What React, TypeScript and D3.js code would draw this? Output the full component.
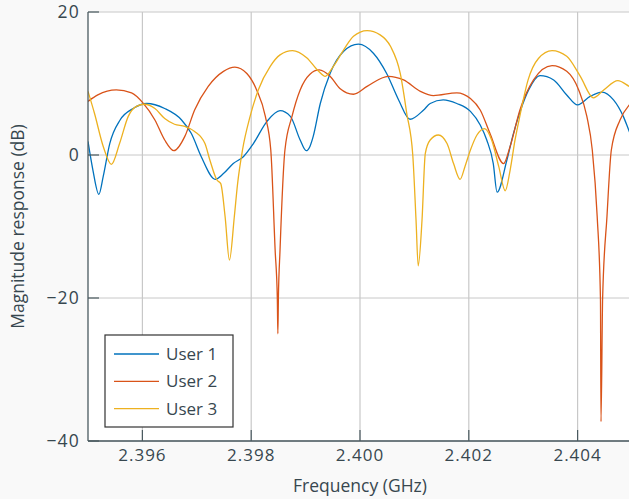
import React, { useEffect } from "react";
import * as d3 from "d3";

const xTicks = [2.396, 2.398, 2.4, 2.402, 2.404];
const yTicks = [20, 0, -20, -40];
const seriesNames = ["User 1", "User 2", "User 3"];
const seriesColors = ["#0072BD", "#D95319", "#EDB120"];

const user1: [number, number][] = [
  [2.395, 1.9], [2.39509, -2.1], [2.3952, -5.5], [2.39528, -3.0], [2.3954, 1.6],
  [2.39559, 4.9], [2.39583, 6.5], [2.39608, 7.2], [2.39641, 6.5], [2.39672, 4.9],
  [2.3969, 3.0], [2.39708, -0.2], [2.39734, -3.4], [2.39749, -2.6], [2.39767, -1.2],
  [2.39786, -0.2], [2.39804, 1.6], [2.39829, 4.7], [2.39853, 6.2], [2.39872, 5.4],
  [2.3989, 2.1], [2.39901, 0.6], [2.39908, 1.2], [2.39914, 2.6], [2.39927, 7.2],
  [2.39945, 11.4], [2.3997, 14.5], [2.39997, 15.5], [2.40025, 14.2], [2.40049, 11.4],
  [2.40071, 7.7], [2.40092, 5.0], [2.40117, 6.3], [2.40129, 7.2], [2.40153, 7.7],
  [2.40178, 7.2], [2.40203, 6.1], [2.40221, 4.2], [2.40233, 2.1], [2.40245, -1.2],
  [2.40252, -5.2], [2.4027, -0.7], [2.40282, 3.0], [2.40294, 6.0], [2.4031, 9.1],
  [2.40331, 11.1], [2.40356, 10.5], [2.4038, 8.4], [2.404, 7.0], [2.40423, 8.2],
  [2.40445, 8.8], [2.40466, 7.7], [2.40484, 5.4], [2.40495, 3.3], [2.405, 2.4],
];

const user2: [number, number][] = [
  [2.395, 7.5], [2.39518, 8.4], [2.39552, 9.1], [2.3958, 8.7], [2.39601, 7.3],
  [2.39623, 4.9], [2.39641, 2.1], [2.39658, 0.6], [2.39678, 2.6], [2.39696, 6.3],
  [2.39721, 9.6], [2.39749, 11.7], [2.3977, 12.3], [2.39792, 11.4], [2.3981, 9.1],
  [2.39826, 5.4], [2.39836, 0.7], [2.39844, -13.3], [2.39848, -20], [2.39849, -25],
  [2.3985, -20], [2.39853, -13.3], [2.39862, 0.7], [2.39875, 5.4], [2.3989, 9.1],
  [2.39908, 11.3], [2.39925, 11.9], [2.39945, 11.0], [2.39963, 9.3], [2.39988, 8.5],
  [2.40013, 9.6], [2.40052, 11.0], [2.4008, 10.5], [2.40111, 8.9], [2.40135, 8.3],
  [2.40178, 8.7], [2.40203, 7.9], [2.40221, 6.3], [2.40239, 3.0], [2.40264, -1.2],
  [2.40276, 1.2], [2.40294, 6.3], [2.40319, 10.5], [2.40353, 12.5], [2.4038, 11.7],
  [2.40402, 9.1], [2.40417, 5.4], [2.40427, 0.7], [2.40436, -8.6], [2.40442, -20],
  [2.40443, -37.3], [2.40446, -20], [2.40454, -8.6], [2.40462, 0.7], [2.40478, 4.9],
  [2.40495, 7.0], [2.405, 7.4],
];

const user3: [number, number][] = [
  [2.395, 8.9], [2.39512, 5.8], [2.39528, 1.2], [2.39543, -1.3], [2.39558, 1.6],
  [2.39574, 5.4], [2.39589, 6.8], [2.39604, 7.1], [2.39623, 6.5], [2.39641, 5.1],
  [2.39659, 4.3], [2.39678, 4.0], [2.39696, 3.3], [2.39715, 1.6], [2.39724, -0.7],
  [2.39737, -3.5], [2.39744, -4.0], [2.39752, -8.6], [2.3976, -14.7], [2.39769, -8.6],
  [2.39775, -4.0], [2.39784, 0.7], [2.39798, 5.4], [2.39813, 9.1], [2.39835, 12.4],
  [2.39853, 14.0], [2.39876, 14.6], [2.39902, 13.6], [2.39924, 11.7], [2.39936, 11.0],
  [2.39951, 12.4], [2.3997, 14.7], [2.39988, 16.6], [2.40013, 17.4], [2.40037, 16.8],
  [2.40056, 15.2], [2.40074, 11.4], [2.40086, 5.8], [2.40097, 0.0], [2.40103, -9.1],
  [2.40107, -15.5], [2.40114, -9.1], [2.4012, 0.2], [2.40129, 2.1], [2.40144, 2.8],
  [2.4016, 1.6], [2.40172, -1.2], [2.40184, -3.4], [2.40193, -1.6], [2.40203, 0.7],
  [2.40215, 2.8], [2.40229, 3.7], [2.40242, 2.1], [2.40255, -1.6], [2.40267, -5.0],
  [2.40276, -2.1], [2.40285, 2.1], [2.40294, 5.5], [2.40309, 10.5], [2.40328, 13.5],
  [2.40353, 14.6], [2.4038, 13.8], [2.40405, 11.0], [2.40429, 8.0], [2.40448, 9.1],
  [2.40474, 10.4], [2.40495, 9.6], [2.405, 9.4],
];

const seriesData = [user1, user2, user3];

const W = 629;
const H = 499;
const M = { left: 88, top: 12, right: 632, bottom: 441 };
const FONT = "'Open Sans', 'DejaVu Sans', sans-serif";
const TEXT = "#37474f";
const AXIS = "#4a5a60";
const GRID = "#c8c8c8";

export default function App() {
  useEffect(() => {
    document.body.style.margin = "0";
  }, []);

  const x = d3.scaleLinear().domain([2.395, 2.405]).range([M.left, M.right]);
  const y = d3.scaleLinear().domain([-40, 20]).range([M.bottom, M.top]);
  const line = d3
    .line<[number, number]>()
    .x((d) => x(d[0]))
    .y((d) => y(d[1]))
    .curve(d3.curveMonotoneX);

  const fmtY = (v: number) => (v < 0 ? "\u2212" + Math.abs(v) : String(v));

  const legendX = 105;
  const legendY = 335;

  return (
    <svg width={W} height={H} style={{ display: "block", background: "#f9f9f9" }}>
      <defs>
        <clipPath id="plotclip">
          <rect x={M.left} y={M.top} width={M.right - M.left} height={M.bottom - M.top} />
        </clipPath>
      </defs>
      <rect x={M.left} y={M.top} width={M.right - M.left} height={M.bottom - M.top} fill="#ffffff" />
      {/* grid */}
      {xTicks.map((t) => (
        <line key={"gx" + t} x1={x(t)} x2={x(t)} y1={M.top} y2={M.bottom} stroke={GRID} strokeWidth={1.2} />
      ))}
      {yTicks.map((t) => (
        <line key={"gy" + t} x1={M.left} x2={M.right} y1={y(t)} y2={y(t)} stroke={GRID} strokeWidth={1} />
      ))}
      {/* series */}
      <g clipPath="url(#plotclip)">
        {seriesData.map((s, i) => (
          <path key={i} d={line(s) || ""} fill="none" stroke={seriesColors[i]} strokeWidth={1.3} strokeLinejoin="round" />
        ))}
      </g>
      {/* axes */}
      <line x1={M.left} x2={M.left} y1={M.top} y2={M.bottom} stroke={AXIS} strokeWidth={1.3} />
      <line x1={M.left} x2={M.right} y1={M.bottom} y2={M.bottom} stroke={AXIS} strokeWidth={1.3} />
      {yTicks.map((t) => (
        <g key={"ty" + t}>
          <line x1={M.left} x2={M.left + 11} y1={y(t)} y2={y(t)} stroke={AXIS} strokeWidth={1.2} />
          <text x={80} y={y(t)} dy="0.36em" textAnchor="end" fontFamily={FONT} fontSize={17.5} fill={TEXT} letterSpacing={1.2}>
            {fmtY(t)}
          </text>
        </g>
      ))}
      {xTicks.map((t) => (
        <g key={"tx" + t}>
          <line x1={x(t)} x2={x(t)} y1={M.bottom} y2={M.bottom - 11} stroke={AXIS} strokeWidth={1.2} />
          <text x={x(t)} y={461} textAnchor="middle" fontFamily={FONT} fontSize={17} fill={TEXT} letterSpacing={1}>
            {t.toFixed(3)}
          </text>
        </g>
      ))}
      <text x={360} y={492} textAnchor="middle" fontFamily={FONT} fontSize={17.5} fill={TEXT}>
        Frequency (GHz)
      </text>
      <text transform="translate(24,226.5) rotate(-90)" textAnchor="middle" fontFamily={FONT} fontSize={17.5} fill={TEXT}>
        Magnitude response (dB)
      </text>
      {/* legend */}
      <rect x={legendX} y={legendY} width={128} height={92} fill="#ffffff" stroke="#333333" strokeWidth={1.2} />
      {seriesNames.map((n, i) => (
        <g key={n}>
          <line x1={legendX + 9} x2={legendX + 54} y1={legendY + 19 + i * 27.3} y2={legendY + 19 + i * 27.3} stroke={seriesColors[i]} strokeWidth={1.3} />
          <text x={legendX + 61} y={legendY + 19 + i * 27.3} dy="0.36em" fontFamily={FONT} fontSize={17} fill={TEXT}>
            {n}
          </text>
        </g>
      ))}
    </svg>
  );
}
